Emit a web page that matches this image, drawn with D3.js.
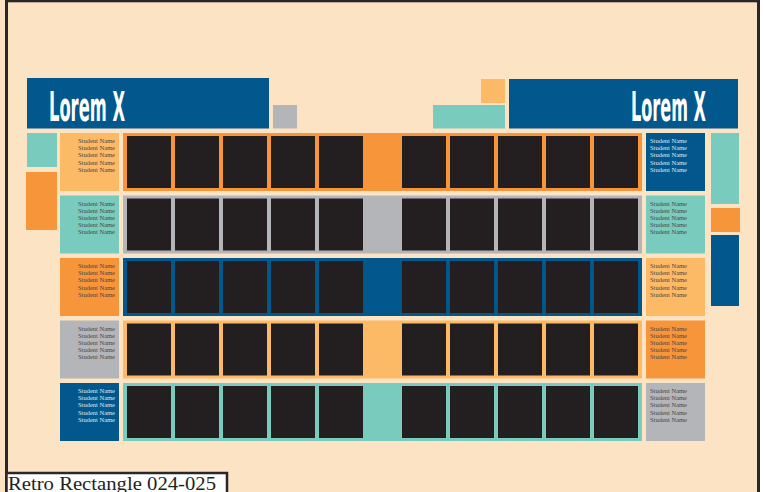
<!DOCTYPE html>
<html><head><meta charset="utf-8">
<script src="https://cdn.jsdelivr.net/npm/d3@7/dist/d3.min.js"></script>
<style>html,body{margin:0;padding:0;background:#fff;}svg{display:block;}</style>
</head><body>
<script>
// ---- data ----
const rows = ["Row 1", "Row 2", "Row 3", "Row 4", "Row 5"];
const leftBoxColors  = ["lightorange", "teal", "orange", "gray", "blue"];
const bandColors     = ["orange", "gray", "blue", "lightorange", "teal"];
const rightBoxColors = ["blue", "teal", "lightorange", "orange", "gray"];
const studentNames = ["Student Name", "Student Name", "Student Name", "Student Name", "Student Name"];
const photoSlots = [0, 1, 2, 3, 4];
const headerTitles = ["Lorem X", "Lorem X"];
const pageLabel = "Retro Rectangle 024-025";

const palette = {
  bg: "#FCE3C4", blue: "#02578C", orange: "#F7953B", lightorange: "#FDBA66",
  teal: "#79CBBD", gray: "#B4B5B9", dark: "#231F20"
};

const W = 764, H = 492;
const svg = d3.select("body").append("svg").attr("width", W).attr("height", H);

svg.append("rect").attr("width", W).attr("height", H).attr("fill", "#fff");
svg.append("rect").attr("x", 0).attr("y", 0).attr("width", 760).attr("height", H).attr("fill", palette.bg);
// frame
svg.append("rect").attr("x", 5).attr("y", 0).attr("width", 3).attr("height", H).attr("fill", "#2a2728");
svg.append("rect").attr("x", 5).attr("y", 0).attr("width", 755).attr("height", 2.3).attr("fill", "#2a2728");
svg.append("rect").attr("x", 757).attr("y", 0).attr("width", 3).attr("height", H).attr("fill", "#2a2728");

// scales
const y = d3.scaleBand().domain(rows).range([133, 441]).paddingInner(0.072).paddingOuter(0);
const xL = d3.scaleBand().domain(photoSlots).range([127, 363]).paddingInner(0.0833).paddingOuter(0);
const xR = d3.scaleBand().domain(photoSlots).range([402, 638]).paddingInner(0.0833).paddingOuter(0);
const lineY = d3.scalePoint().domain(d3.range(studentNames.length)).range([10, 38.8]);

// headers
const headers = [
  {x: 27, y: 78, w: 242, h: 50.5, tx: 49, tw: 76},
  {x: 509, y: 79, w: 229, h: 49.5, tx: 631, tw: 75}
];
headers.forEach((hd, i) => {
  svg.append("rect").attr("x", hd.x).attr("y", hd.y).attr("width", hd.w).attr("height", hd.h).attr("fill", palette.blue);
  const t = svg.append("text").attr("x", 0).attr("y", 0)
    .attr("font-family", "DejaVu Sans Condensed, DejaVu Sans, sans-serif").attr("font-weight", "bold")
    .attr("font-size", 41).attr("fill", "#fff")
    .text(headerTitles[i]);
  const len = t.node().getComputedTextLength();
  t.attr("transform", `translate(${hd.tx},120.5) scale(${hd.tw / len},1)`);
});

// accent blocks
const accents = [
  {x: 273, y: 105, w: 24, h: 23.5, c: "gray"},
  {x: 481, y: 79, w: 24, h: 24, c: "lightorange"},
  {x: 433, y: 105, w: 72, h: 23.5, c: "teal"},
  {x: 27, y: 133, w: 30, h: 34, c: "teal"},
  {x: 26, y: 172, w: 31, h: 58, c: "orange"},
  {x: 711, y: 133, w: 28, h: 71, c: "teal"},
  {x: 711, y: 208, w: 29, h: 24, c: "orange"},
  {x: 711, y: 235, w: 28, h: 71, c: "blue"}
];
svg.selectAll("rect.accent").data(accents).join("rect").attr("class", "accent")
  .attr("x", d => d.x).attr("y", d => d.y).attr("width", d => d.w).attr("height", d => d.h)
  .attr("fill", d => palette[d.c]);

// rows
const g = svg.selectAll("g.row").data(rows).join("g").attr("class", "row")
  .attr("transform", d => `translate(0,${y(d)})`);
const bh = y.bandwidth();

// bands
g.append("rect").attr("x", 123).attr("y", 0).attr("width", 519).attr("height", bh)
  .attr("fill", (d, i) => palette[bandColors[i]]);
// photos
[xL, xR].forEach(xs => {
  g.selectAll(null).data(photoSlots).join("rect")
    .attr("x", s => xs(s)).attr("y", 3).attr("width", xs.bandwidth()).attr("height", bh - 6)
    .attr("fill", palette.dark);
});
// name boxes
g.append("rect").attr("x", 60).attr("y", 0).attr("width", 59).attr("height", bh)
  .attr("fill", (d, i) => palette[leftBoxColors[i]]);
g.append("rect").attr("x", 646).attr("y", 0).attr("width", 59).attr("height", bh)
  .attr("fill", (d, i) => palette[rightBoxColors[i]]);

function txtColor(c) { return c === "blue" ? "#dfe8f0" : "#4a4547"; }
g.each(function(d, i) {
  const row = d3.select(this);
  row.selectAll("text.l").data(studentNames).join("text").attr("class", "l")
    .attr("x", 115).attr("y", (n, k) => lineY(k)).attr("text-anchor", "end")
    .attr("font-family", "Liberation Serif, serif").attr("font-size", 6.5)
    .attr("fill", txtColor(leftBoxColors[i])).text(n => n);
  row.selectAll("text.r").data(studentNames).join("text").attr("class", "r")
    .attr("x", 650).attr("y", (n, k) => lineY(k)).attr("text-anchor", "start")
    .attr("font-family", "Liberation Serif, serif").attr("font-size", 6.5)
    .attr("fill", txtColor(rightBoxColors[i])).text(n => n);
});

// page label
svg.append("rect").attr("x", 6.5).attr("y", 473).attr("width", 220.5).attr("height", 30)
  .attr("fill", "#fff").attr("stroke", "#2a2728").attr("stroke-width", 2.5);
svg.append("text").attr("x", 8).attr("y", 489.5)
  .attr("font-family", "Liberation Serif, serif").attr("font-size", 19.5).attr("fill", "#231F20")
  .attr("textLength", 208).attr("lengthAdjust", "spacingAndGlyphs")
  .text(pageLabel);
</script>
</body></html>
